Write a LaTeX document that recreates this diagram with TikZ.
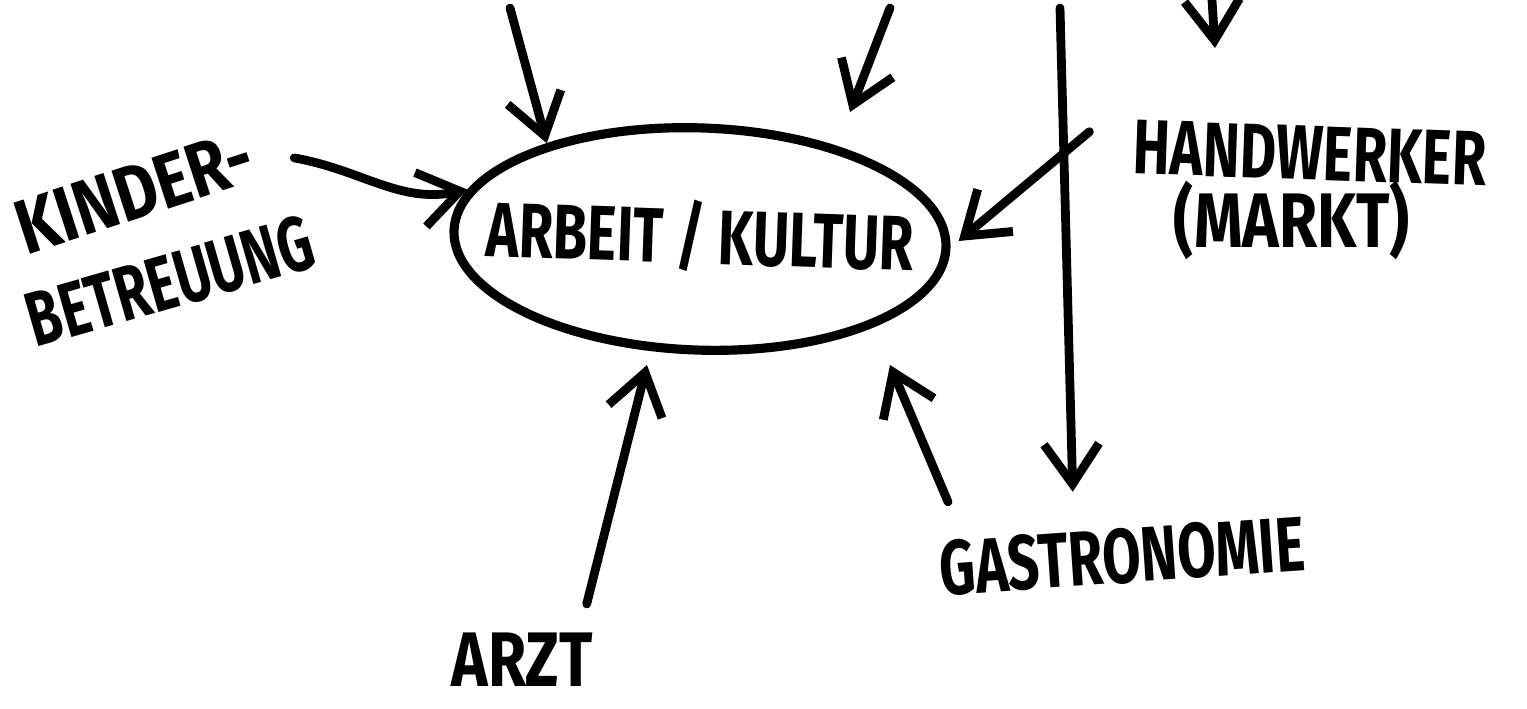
\documentclass[tikz,border=0pt]{standalone}
\usepackage{fontspec}
\usepackage{graphicx}
\setsansfont{Fira Sans}
\usetikzlibrary{positioning, arrows.meta, shapes.geometric, calc}

\newcommand{\squeeze}[1]{\scalebox{0.72}[1]{#1}}

\begin{document}
\begin{tikzpicture}[x=0.01cm, y=-0.01cm]
	\tikzset{
		arr/.style={line width=2.5pt, line cap=round, -{Straight Barb[length=4mm, width=5.5mm, line width=2.5pt]}},
		hand/.style={font=\sffamily\bfseries\fontsize{22}{24}\selectfont, inner sep=1pt},
		blob/.style={ellipse, draw, line width=2.6pt, minimum width=4.92cm, minimum height=2.22cm, inner xsep=-14pt, inner ysep=0pt}
	}
	\useasboundingbox (0,0) rectangle (1527,708);
	% centre
	\node[hand, blob, rotate=-2] (ak) at (700,239) {\raisebox{4pt}{\squeeze{ARBEIT / KULTUR}}};
	% labels round it
	\node[hand, rotate=18] (kinder) at (134,192) {\scalebox{0.84}[1]{KINDER-}};
	\node[hand, rotate=16] (betr) at (170,281) {\scalebox{0.7}[1]{BETREUUNG}};
	\node[hand, rotate=-2] (handw) at (1310,153) {\squeeze{HANDWERKER}};
	\node[hand] (markt) at (1292,220) {\scalebox{0.8}[1]{(MARKT)}};
	\node[hand, rotate=4] (gastro) at (1122,556) {\squeeze{GASTRONOMIE}};
	\node[hand] (arzt) at (522,660) {\scalebox{0.8}[1]{ARZT}};
	% free ends at the top edge
	\coordinate (topa) at (510,8);
	\coordinate (topb) at (890,8);
	\coordinate (tipb) at (850,112);
	\coordinate (topc) at (1060,8);
	\coordinate (topd) at (1212,0);
	\coordinate (tipd) at (1215,48);
	% arrows
	\draw[arr] (topa) -- (ak.150);
	\draw[arr] (topb) -- (tipb);
	\draw[arr] (topc) -- ($(gastro.north)+(-47,-32)$);
	\draw[arr] (topd) -- (tipd);
	\draw[arr, shorten >=3pt] ($(handw.west)+(-40,-15)$) -- (ak.east);
	\draw[arr] ($(kinder.east)+(40,5)$) to[out=-10, in=192] (ak.170);
	\draw[arr] ($(arzt.north east)+(-10,-25)$) -- ($(ak.center)+(-53,126)$);
	\draw[arr] ($(gastro.north west)+(15,-35)$) -- ($(ak.center)+(190,126)$);
\end{tikzpicture}
\end{document}
